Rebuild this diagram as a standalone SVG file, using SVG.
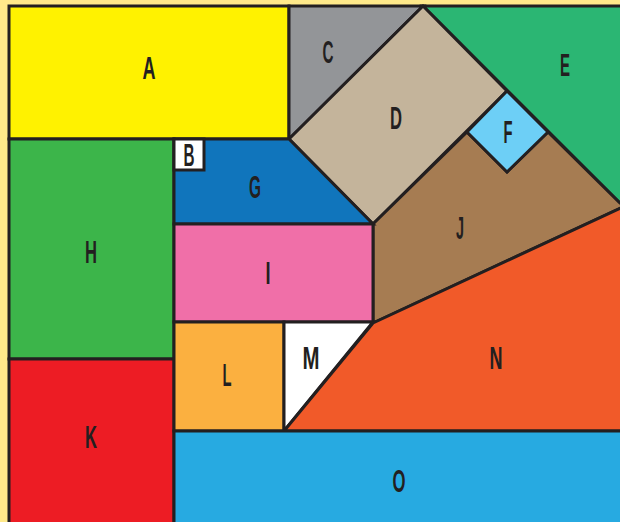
<svg xmlns="http://www.w3.org/2000/svg" width="620" height="522" viewBox="0 0 620 522">
<style>
.p{stroke:#231F20;stroke-width:3;stroke-linejoin:miter}
.t{font-family:"Liberation Sans","DejaVu Sans",sans-serif;font-weight:bold;font-size:31px;fill:#231F20;text-anchor:middle;dominant-baseline:central}
</style>
<rect x="0" y="0" width="620" height="522" fill="#FFE98A"/>
<g id="A"><rect class="p" x="9" y="6" width="280" height="133" fill="#FFF200"/><text class="t" x="149" y="68" textLength="13" lengthAdjust="spacingAndGlyphs">A</text></g>
<g id="C"><polygon class="p" points="289,6 423,6 289,139" fill="#939598"/><text class="t" x="328" y="52" textLength="11" lengthAdjust="spacingAndGlyphs">C</text></g>
<g id="E"><polygon class="p" points="423,6 625,6 625,208 620,203" fill="#2BB673"/><text class="t" x="565" y="65" textLength="10" lengthAdjust="spacingAndGlyphs">E</text></g>
<g id="D"><polygon class="p" points="289,139 423,6 507,91 373,224" fill="#C4B49B"/><text class="t" x="396" y="118" textLength="12" lengthAdjust="spacingAndGlyphs">D</text></g>
<g id="J"><polygon class="p" points="373,224 467,132 507,172 548,132 620,203 625,206 373,323" fill="#A67C52"/><text class="t" x="460" y="228" textLength="8" lengthAdjust="spacingAndGlyphs">J</text></g>
<g id="F"><polygon class="p" points="507,91 548,132 507,172 467,132" fill="#6DCFF6"/><text class="t" x="508" y="132" textLength="9" lengthAdjust="spacingAndGlyphs">F</text></g>
<g id="H"><rect class="p" x="9" y="139" width="165" height="220" fill="#3CB54A"/><text class="t" x="91" y="252" textLength="12" lengthAdjust="spacingAndGlyphs">H</text></g>
<g id="K"><rect class="p" x="9" y="359" width="165" height="170" fill="#ED1C24"/><text class="t" x="91" y="437" textLength="12" lengthAdjust="spacingAndGlyphs">K</text></g>
<g id="G"><polygon class="p" points="174,139 289,139 373,224 174,224" fill="#1075BC"/><text class="t" x="255" y="187" textLength="12" lengthAdjust="spacingAndGlyphs">G</text></g>
<g id="B"><rect class="p" x="174" y="139" width="30" height="31" fill="#FFFFFF"/><text class="t" x="189" y="155" textLength="11" lengthAdjust="spacingAndGlyphs">B</text></g>
<g id="I"><rect class="p" x="174" y="224" width="199" height="98" fill="#F06FA8"/><text class="t" x="268" y="273" textLength="5" lengthAdjust="spacingAndGlyphs">I</text></g>
<g id="L"><rect class="p" x="174" y="322" width="110" height="109" fill="#FBB040"/><text class="t" x="227" y="375" textLength="9" lengthAdjust="spacingAndGlyphs">L</text></g>
<g id="M"><polygon class="p" points="284,322 373,322 284,431" fill="#FFFFFF"/><text class="t" x="311" y="358" textLength="17" lengthAdjust="spacingAndGlyphs">M</text></g>
<g id="N"><polygon class="p" points="373,323 625,206 625,431 284,431" fill="#F15A29"/><text class="t" x="496" y="358" textLength="13" lengthAdjust="spacingAndGlyphs">N</text></g>
<g id="O"><rect class="p" x="174" y="431" width="451" height="98" fill="#27AAE1"/><text class="t" x="399" y="481" textLength="13" lengthAdjust="spacingAndGlyphs">O</text></g>
<g id="connectors"/>
</svg>
